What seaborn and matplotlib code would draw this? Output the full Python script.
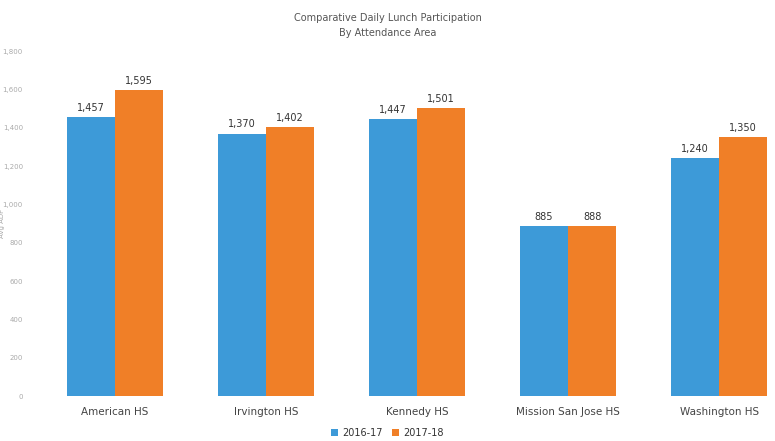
import pandas as pd
import seaborn as sns
from matplotlib import pyplot as plt

schools = ['American HS', 'Irvington HS', 'Kennedy HS', 'Mission San Jose HS', 'Washington HS']
years = ['2016-17', '2017-18']
lunch_1617 = [1457, 1370, 1447, 885, 1240]
lunch_1718 = [1595, 1402, 1501, 888, 1350]

df = pd.DataFrame({
    'school': schools * 2,
    'year': [years[0]] * 5 + [years[1]] * 5,
    'count': lunch_1617 + lunch_1718,
})

sns.set_style('white')
plt.rcParams['font.family'] = ['DejaVu Sans']

fig = plt.figure(figsize=(7.75, 4.41), dpi=100)
ax = fig.add_axes([0.051, 0.102, 0.949, 0.782])

sns.barplot(data=df, x='school', y='count', hue='year',
            palette=['#3d9ad8', '#f07f27'], width=0.64, gap=0,
            saturation=1, linewidth=0, ax=ax, legend=True)

for c in ax.containers:
    ax.bar_label(c, labels=[f'{int(v):,}' for v in c.datavalues],
                 padding=3, fontsize=7, color='#333333')

ax.set_ylim(0, 1800)
ax.set_yticks(range(0, 1801, 200))
ax.set_yticklabels([f'{v:,}' for v in range(0, 1801, 200)], fontsize=5, color='#aaaaaa')
ax.set_xlim(-0.5, 4.37)
ax.tick_params(axis='x', labelsize=7.5, colors='#444444', length=0, pad=8)
ax.tick_params(axis='y', length=0, pad=12)
ax.set_xlabel('')
ax.set_ylabel('Avg ADP', fontsize=5, color='#aaaaaa', labelpad=-2)
sns.despine(ax=ax, left=True, bottom=True, top=True, right=True)

fig.text(0.5, 0.952, 'Comparative Daily Lunch Participation', ha='center',
         fontsize=7, color='#555555')
fig.text(0.5, 0.918, 'By Attendance Area', ha='center', fontsize=7, color='#555555')

ax.legend(loc='center', bbox_to_anchor=(0.473, -0.107),
          ncol=2, frameon=False, fontsize=7, handlelength=0.7, handleheight=0.7,
          columnspacing=1.0, handletextpad=0.4, labelcolor='#333333')

fig.savefig('out.png', dpi=100)
